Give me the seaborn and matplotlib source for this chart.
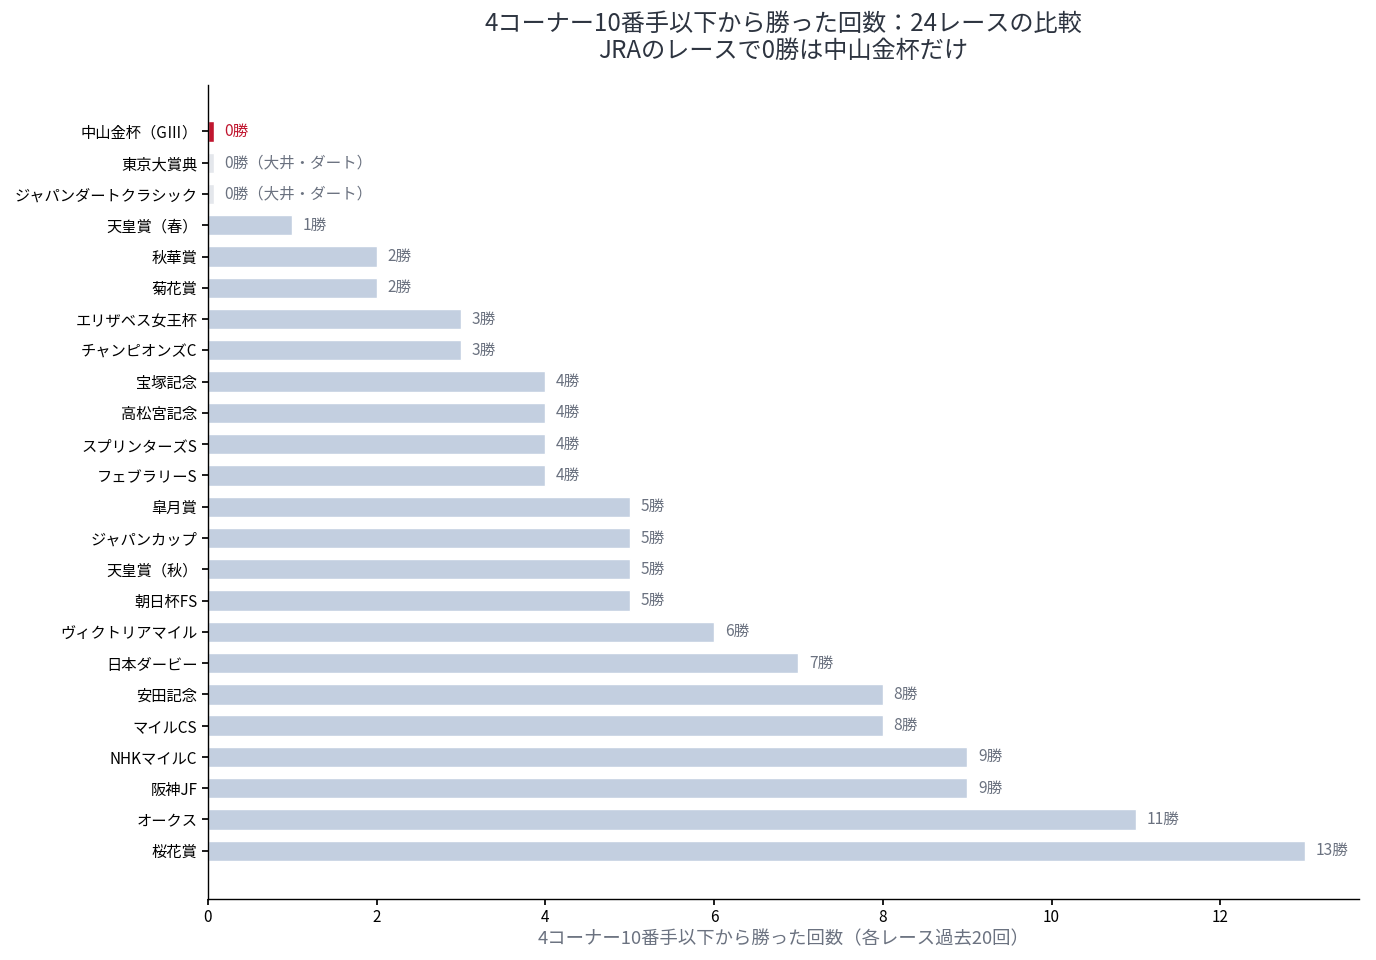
import numpy as np
import pandas as pd
import matplotlib
matplotlib.use('Agg')
import matplotlib.pyplot as plt
import seaborn as sns

# Data (top to bottom)
races = ['中山金杯（GⅢ）', '東京大賞典', 'ジャパンダートクラシック', '天皇賞（春）', '秋華賞', '菊花賞',
         'エリザベス女王杯', 'チャンピオンズC', '宝塚記念', '高松宮記念', 'スプリンターズS', 'フェブラリーS',
         '皐月賞', 'ジャパンカップ', '天皇賞（秋）', '朝日杯FS', 'ヴィクトリアマイル', '日本ダービー',
         '安田記念', 'マイルCS', 'NHKマイルC', '阪神JF', 'オークス', '桜花賞']
wins = [0, 0, 0, 1, 2, 2, 3, 3, 4, 4, 4, 4, 5, 5, 5, 5, 6, 7, 8, 8, 9, 9, 11, 13]
kind = ['highlight', 'local', 'local'] + ['normal'] * 21
label_suffix = ['', '（大井・ダート）', '（大井・ダート）'] + [''] * 21

sns.set_theme(style='white')
plt.rcParams['font.family'] = ['Noto Sans CJK JP', 'DejaVu Sans']

colors = {'highlight': '#c0162f', 'local': '#e4e7ec', 'normal': '#c3cfe0'}
text_colors = {'highlight': '#c0162f', 'local': '#6b7280', 'normal': '#6b7280'}

df = pd.DataFrame({'race': races, 'wins': wins, 'kind': kind, 'suffix': label_suffix})
# zero-win races get a thin stub so they remain visible
df['shown'] = df['wins'].clip(lower=0.07)

fig, ax = plt.subplots(figsize=(13.76, 9.6), dpi=100)
sns.barplot(data=df, x='shown', y='race', hue='kind', palette=colors, dodge=False,
            width=0.65, legend=False, ax=ax, saturation=1)

for i, row in df.iterrows():
    ax.text(row['shown'] + 0.13, i, f"{row['wins']}勝{row['suffix']}", va='center', ha='left',
            fontsize=11.2, color=text_colors[row['kind']])

ax.set_xlim(0, 13.65)
ax.set_ylim(len(races) - 0.5 + 1.03, -0.5 - 0.97)
ax.set_ylabel('')
ax.set_xlabel('4コーナー10番手以下から勝った回数（各レース過去20回）', fontsize=13.2, color='#6b7280',
              labelpad=3)
ax.set_title('4コーナー10番手以下から勝った回数：24レースの比較\nJRAのレースで0勝は中山金杯だけ',
             fontsize=17.4, color='#2d3440', pad=20, linespacing=1.05)
ax.tick_params(axis='both', labelsize=11, colors='black', length=4, left=True, bottom=True)
for s in ['top', 'right']:
    ax.spines[s].set_visible(False)
for s in ['left', 'bottom']:
    ax.spines[s].set_color('black')
    ax.spines[s].set_linewidth(1)

plt.subplots_adjust(left=0.151, right=0.988, top=0.911, bottom=0.064)
plt.savefig('out.png', dpi=100)
